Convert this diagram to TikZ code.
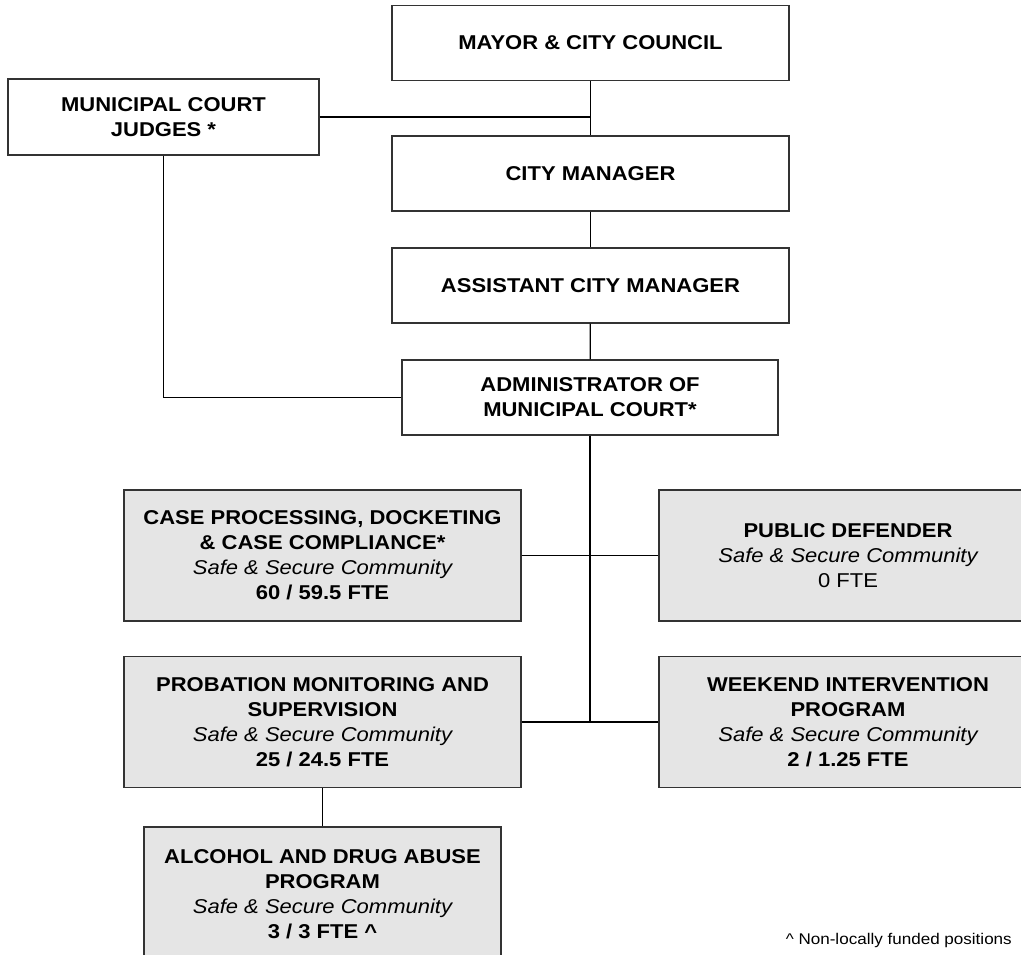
\documentclass[tikz,border=0pt]{standalone}
\usepackage{fontspec}
\setmainfont{Liberation Sans}[FakeStretch=1.1]
\usepackage{tikz}
\definecolor{boxgray}{rgb}{0.9,0.9,0.9}
\definecolor{edge}{rgb}{0.2,0.2,0.2}

\begin{document}
\begin{tikzpicture}[x=1pt,y=-1pt,every node/.style={font=\fontsize{20}{25}\selectfont\bfseries},
  unit/.style={draw=edge,line width=1.4pt,align=center,inner sep=0pt,minimum width=397pt,minimum height=75pt},
  sub/.style={unit,fill=boxgray,minimum height=131pt},
  link/.style={line width=1.3pt,black}]
 \useasboundingbox (0,0) rectangle (1021,955);
 \node[unit] (mc) at (590.5,43) {MAYOR \& CITY COUNCIL};
 \node[unit,minimum width=311pt,minimum height=76pt] (jd) at (163.5,117) {MUNICIPAL COURT\\JUDGES *};
 \node[unit] (cm) at (590.5,173.5) {CITY MANAGER};
 \node[unit] (acm) at (590.5,285.5) {ASSISTANT CITY MANAGER};
 \node[unit,minimum width=376pt] (adm) at (590,397.5) {ADMINISTRATOR OF\\MUNICIPAL COURT*};
 \node[sub] (cp) at (322.5,555.5) {CASE PROCESSING, DOCKETING\\\& CASE COMPLIANCE*\\{\mdseries\itshape Safe \& Secure Community}\\60 / 59.5 FTE};
 \node[sub,minimum width=378pt] (pd) at (848,555.5) {PUBLIC DEFENDER\\{\mdseries\itshape Safe \& Secure Community}\\{\mdseries 0 FTE}};
 \node[sub] (pm) at (322.5,722) {PROBATION MONITORING AND\\SUPERVISION\\{\mdseries\itshape Safe \& Secure Community}\\25 / 24.5 FTE};
 \node[sub,minimum width=378pt] (wi) at (848,722) {WEEKEND INTERVENTION\\PROGRAM\\{\mdseries\itshape Safe \& Secure Community}\\2 / 1.25 FTE};
 \node[sub,minimum width=357pt,minimum height=134pt] (ad) at (322.5,894) {ALCOHOL AND DRUG ABUSE\\PROGRAM\\{\mdseries\itshape Safe \& Secure Community}\\3 / 3 FTE \textasciicircum};
 \node[font=\fontsize{15.5}{18}\selectfont,anchor=base east,inner sep=0pt] (fn) at (1012,944) {\textasciicircum{} Non-locally funded positions};
 \coordinate (hub) at (590,722);
 \draw[link] (mc)--(cm);
 \draw[link] (cm)--(acm);
 \draw[link] (acm)--(adm);
 \draw[link] (jd.east)--(jd.east -| mc.south);
 \draw[link] (jd.south) |- (adm.west);
 \draw[link] (adm.south)--(hub);
 \draw[link] (cp.east)--(pd.west);
 \draw[link] (pm.east)--(wi.west);
 \draw[link] (pm)--(ad);
\end{tikzpicture}
\end{document}
